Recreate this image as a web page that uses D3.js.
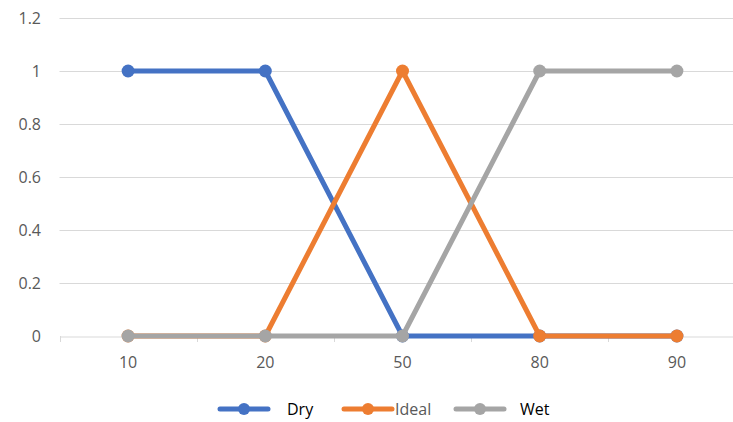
<!DOCTYPE html>
<html><head><meta charset="utf-8">
<script src="https://cdn.jsdelivr.net/npm/d3@7"></script>
<style>body{margin:0;background:#fff;}svg{display:block;font-family:"Open Sans","Liberation Sans",sans-serif;}</style>
</head><body>
<svg id="c" width="733" height="422"></svg>
<script>
const categories = ["10","20","50","80","90"];
const dry   = [1,1,0,0,0];
const ideal = [0,0,1,0,0];
const wet   = [0,0,0,1,1];
const yTicks = [0,0.2,0.4,0.6,0.8,1,1.2];
const seriesNames = ["Dry","Ideal","Wet"];
const seriesColors = ["#4472C4","#ED7D31","#A5A5A5"];
const series = [dry, ideal, wet];

(function(){
const svg = d3.select("#c");
const pLeft = 59.5, pRight = 745.5, pTop = 18, pBottom = 336;
const x = d3.scaleBand().domain(categories).range([pLeft, pRight]);
const y = d3.scaleLinear().domain([0,1.2]).range([pBottom, pTop]);

// gridlines
svg.append("g").selectAll("line").data(yTicks.filter(d=>d>0)).join("line")
  .attr("x1", pLeft).attr("x2", 733).attr("y1", d=>Math.round(y(d))+0.5).attr("y2", d=>Math.round(y(d))+0.5)
  .attr("stroke","#D9D9D9").attr("stroke-width",1);
// y labels
svg.append("g").selectAll("text").data(yTicks).join("text")
  .attr("x", 41).attr("y", d=>y(d)).attr("dy","0.35em").attr("text-anchor","end")
  .attr("fill","#595959").style("font-size","16px").text(d=>d);
// x axis
const xAxis = svg.append("g").attr("transform",`translate(0,${Math.round(pBottom)+0.5})`)
  .call(d3.axisBottom(x).tickSize(0).tickPadding(20));
xAxis.select(".domain").attr("stroke","#D9D9D9");
xAxis.selectAll("text").attr("fill","#595959").style("font-size","16px").style("font-family","'Open Sans','Liberation Sans',sans-serif");
// ticks between categories
const bounds = categories.map(c=>x(c)).concat([x(categories[categories.length-1])+x.bandwidth()]);
svg.append("g").selectAll("line").data(bounds).join("line")
  .attr("x1", d=>Math.round(d)+0.5).attr("x2", d=>Math.round(d)+0.5)
  .attr("y1", Math.round(pBottom)).attr("y2", Math.round(pBottom)+6)
  .attr("stroke","#D9D9D9");

const cx = c => x(c) + x.bandwidth()/2;
const line = d3.line().x((d,i)=>cx(categories[i])).y(d=>y(d));
series.forEach((s,k)=>{
  const g = svg.append("g");
  g.append("path").datum(s).attr("d", line).attr("fill","none")
    .attr("stroke", seriesColors[k]).attr("stroke-width",5).attr("stroke-linejoin","round");
  g.selectAll("circle").data(s).join("circle")
    .attr("cx",(d,i)=>cx(categories[i])).attr("cy",d=>y(d)).attr("r",6.5)
    .attr("fill", seriesColors[k]);
});

// legend
const legendItems = [
  {lx:220, tx:287, color:seriesColors[0], name:seriesNames[0], tc:"#000"},
  {lx:344, tx:395, color:seriesColors[1], name:seriesNames[1], tc:"#595959"},
  {lx:456, tx:520, color:seriesColors[2], name:seriesNames[2], tc:"#000"}
];
const ly = 409;
const lg = svg.append("g");
legendItems.forEach(it=>{
  lg.append("line").attr("x1",it.lx).attr("x2",it.lx+48).attr("y1",ly).attr("y2",ly)
    .attr("stroke",it.color).attr("stroke-width",5).attr("stroke-linecap","round");
  lg.append("circle").attr("cx",it.lx+24).attr("cy",ly).attr("r",6).attr("fill",it.color);
  lg.append("text").attr("x",it.tx).attr("y",ly).attr("dy","0.35em").attr("fill",it.tc)
    .style("font-size","16px").text(it.name);
});
})();
</script>
</body></html>
